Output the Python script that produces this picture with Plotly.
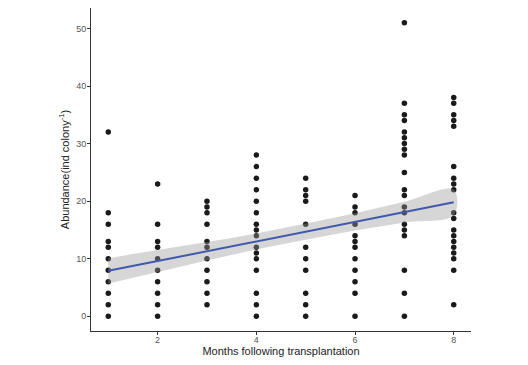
import plotly.graph_objects as go

months = [1, 2, 3, 4, 5, 6, 7, 8]
abundance = {
    1: [0, 2, 4, 6, 8, 10, 12, 13, 16, 18, 32],
    2: [0, 2, 4, 6, 8, 10, 12, 13, 16, 23],
    3: [2, 4, 6, 8, 10, 12, 13, 16, 18, 19, 20],
    4: [0, 2, 4, 8, 10, 11, 12, 14, 15, 16, 18, 20, 22, 24, 26, 28],
    5: [0, 2, 4, 8, 10, 12, 16, 20, 21, 22, 24],
    6: [0, 4, 6, 8, 10, 12, 13, 14, 16, 18, 19, 21],
    7: [0, 4, 8, 14, 15, 16, 18, 19, 21, 22, 25, 28, 29, 30, 31, 32, 34, 35, 37, 51],
    8: [2, 8, 10, 11, 12, 13, 14, 15, 17, 18, 22, 23, 24, 26, 33, 34, 35, 37, 38],
}
# linear smooth and its 95% confidence band
smooth_x = [1, 2, 3, 4, 5, 6, 7, 8]
smooth_y = [7.9, 9.6, 11.3, 13.0, 14.7, 16.4, 18.1, 19.8]
smooth_lo = [5.7, 7.7, 9.7, 11.6, 13.3, 14.9, 16.3, 17.6]
smooth_hi = [10.1, 11.5, 12.9, 14.4, 16.1, 17.9, 19.9, 22.0]
y_ticks = [0, 10, 20, 30, 40, 50]
x_ticks = [2, 4, 6, 8]

xs = [m for m in months for _ in abundance[m]]
ys = [v for m in months for v in abundance[m]]

fig = go.Figure()
fig.add_trace(go.Scatter(x=xs, y=ys, mode="markers",
                         marker=dict(size=5.5, color="#1a1a1a"),
                         showlegend=False, hoverinfo="skip"))
fig.add_trace(go.Scatter(x=smooth_x + smooth_x[::-1],
                         y=smooth_hi + smooth_lo[::-1],
                         fill="toself", fillcolor="rgba(153,153,153,0.4)",
                         line=dict(width=0, shape="spline"), mode="lines",
                         showlegend=False, hoverinfo="skip"))
fig.add_trace(go.Scatter(x=smooth_x, y=smooth_y, mode="lines",
                         line=dict(color="#4159AD", width=2),
                         showlegend=False, hoverinfo="skip"))

axis_common = dict(showgrid=False, zeroline=False, showline=True,
                   linecolor="#333333", linewidth=1, ticks="outside",
                   ticklen=3, tickcolor="#333333", tickwidth=1,
                   tickfont=dict(family="Liberation Sans, Arial", size=9, color="#555555"),
                   title_font=dict(family="Liberation Sans, Arial", size=11, color="#222222"))

fig.update_layout(
    width=528, height=365,
    margin=dict(l=83, r=65, t=0, b=42),
    paper_bgcolor="white", plot_bgcolor="white",
    xaxis=dict(range=[0.65, 8.35], tickvals=x_ticks, ticktext=[str(v) for v in x_ticks],
               ticklabelstandoff=-3,
               title=dict(text="Months following transplantation", standoff=2),
               **axis_common),
    yaxis=dict(range=[-2.55, 53.55], tickvals=y_ticks, ticktext=[str(v) for v in y_ticks],
               ticklabelstandoff=-1,
               title=dict(text="Abundance(ind colony<sup>-1</sup>)", standoff=4),
               **axis_common),
)

fig.write_html("out.html")
